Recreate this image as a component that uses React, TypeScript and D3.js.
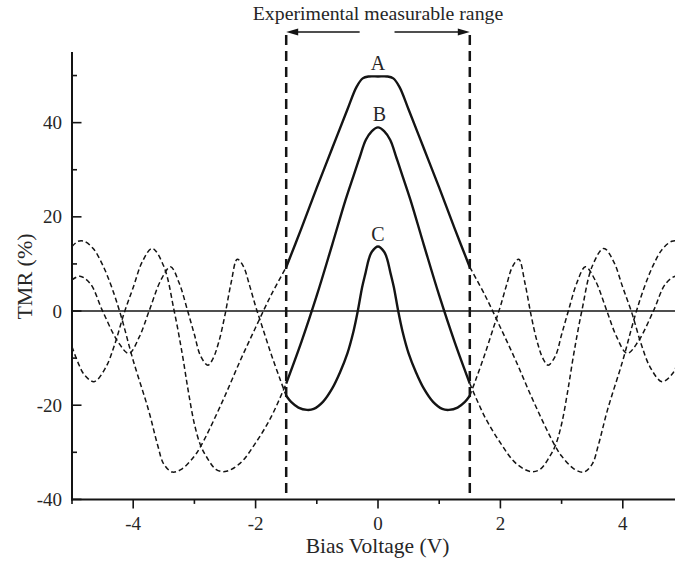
import React from "react";
import * as d3 from "d3";

// ---- data ----
const xDomain = [-5, 5];
const yDomain = [-40, 55];
const xMajorTicks = [-4, -2, 0, 2, 4];
const xMinorTicks = [-5, -3, -1, 1, 3, 5];
const yMajorTicks = [-40, -20, 0, 20, 40];
const yMinorTicks = [-30, -10, 10, 30, 50];
const rangeLimits = [-1.5, 1.5];
const arrowTails = [-0.3, 0.27];

const biasA = [-5, -4.9, -4.8, -4.65, -4.5, -4.35, -4.2, -4, -3.75, -3.6, -3.5, -3.36, -3.2, -3, -2.9, -2.75, -2.5, -2.25, -2, -1.75, -1.5, -1.25, -1, -0.75, -0.5, -0.35, -0.25, -0.15,
  0, 0.15, 0.25, 0.35, 0.5, 0.75, 1, 1.25, 1.5, 1.75, 2, 2.25, 2.5, 2.75, 2.9, 3, 3.2, 3.36, 3.5, 3.6, 3.75, 4, 4.2, 4.35, 4.5, 4.65, 4.8, 4.9, 5];
const tmrA = [13.7, 14.8, 14.8, 13.2, 9.8, 5, -1, -10.5, -21, -28.5, -32.5, -34.2, -33.5, -30.8, -28.8, -25, -18, -10.5, -3.5, 3.3, 9.3, 17.6, 26.2, 34.5, 42.8, 47.6, 49.4, 49.8,
  49.8, 49.8, 49.4, 47.6, 42.8, 34.5, 26.2, 17.6, 9.3, 3.3, -3.5, -10.5, -18, -25, -28.8, -30.8, -33.5, -34.2, -32.5, -28.5, -21, -10.5, -1, 5, 9.8, 13.2, 14.8, 14.8, 13.7];

const biasB = [-5, -4.9, -4.8, -4.64, -4.45, -4.3, -4.15, -4, -3.85, -3.69, -3.5, -3.33, -3.2, -3.1, -3, -2.9, -2.8, -2.65, -2.5, -2.25, -2, -1.75, -1.5, -1.25, -1, -0.75, -0.53, -0.4, -0.3, -0.2, -0.1,
  0, 0.1, 0.2, 0.3, 0.4, 0.53, 0.75, 1, 1.25, 1.5, 1.75, 2, 2.25, 2.5, 2.65, 2.8, 2.9, 3, 3.1, 3.2, 3.33, 3.5, 3.69, 3.85, 4, 4.15, 4.3, 4.45, 4.64, 4.8, 4.9, 5];
const tmrB = [-7.6, -11, -13.5, -15, -12, -7, -0.5, 5, 10.5, 13.3, 9.5, 0, -9, -17, -24, -28.5, -31, -33.6, -34.1, -32.3, -28, -22.6, -15.4, -6.5, 3.3, 14, 23.6, 28.7, 32.6, 36.3, 38.2,
  39, 38.2, 36.3, 32.6, 28.7, 23.6, 14, 3.3, -6.5, -15.4, -22.6, -28, -32.3, -34.1, -33.6, -31, -28.5, -24, -17, -9, 0, 9.5, 13.3, 10.5, 5, -0.5, -7, -12, -15, -13.5, -11, -7.6];

const biasC = [-5, -4.87, -4.7, -4.5, -4.25, -4.07, -3.9, -3.74, -3.55, -3.39, -3.25, -3.11, -3, -2.9, -2.78, -2.7, -2.6, -2.5, -2.4, -2.3, -2.2, -2.1, -2, -1.9, -1.75, -1.6, -1.5, -1.42, -1.3, -1.16, -1.05, -0.9, -0.75, -0.62, -0.5, -0.4, -0.33, -0.26, -0.2, -0.15, -0.1,
  0, 0.1, 0.15, 0.2, 0.26, 0.33, 0.4, 0.5, 0.62, 0.75, 0.9, 1.05, 1.16, 1.3, 1.42, 1.5, 1.6, 1.75, 1.9, 2, 2.1, 2.2, 2.3, 2.4, 2.5, 2.6, 2.7, 2.78, 2.9, 3, 3.11, 3.25, 3.39, 3.55, 3.74, 3.9, 4.07, 4.25, 4.5, 4.7, 4.87, 5];
const tmrC = [6.6, 7.4, 5.8, 0, -6.5, -9, -5.5, 0, 6.5, 9.4, 6, 0, -5, -9.5, -11.5, -10.2, -6.5, -0.8, 6, 11, 9.5, 5.5, 1, -3, -9, -14.5, -18, -19.3, -20.5, -21, -20.8, -19.3, -16.5, -13, -9, -4.3, 0, 5, 8.3, 11, 12.6,
  13.7, 12.6, 11, 8.3, 5, 0, -4.3, -9, -13, -16.5, -19.3, -20.8, -21, -20.5, -19.3, -18, -14.5, -9, -3, 1, 5.5, 9.5, 11, 6, -0.8, -6.5, -10.2, -11.5, -9.5, -5, 0, 6, 9.4, 6.5, 0, -5.5, -9, -6.5, 0, 5.8, 7.4, 6.6];

const seriesLabels = ["A", "B", "C"];
const seriesPeaks = [49.8, 39, 13.7];

const W = 675;
const H = 565;
const FONT = '"Liberation Serif", "Times New Roman", serif';
const INK = "#141414";
const TXT = "#262626";

export default function App() {
  const x = d3.scaleLinear().domain(xDomain).range([72, 684]);
  const y = d3.scaleLinear().domain(yDomain).range([499.4, 52]);
  const line = d3
    .line<[number, number]>()
    .x((d) => x(d[0]))
    .y((d) => y(d[1]))
    .curve(d3.curveCatmullRom.alpha(0.5));

  const series = [
    [biasA, tmrA],
    [biasB, tmrB],
    [biasC, tmrC],
  ].map(([xs, ys]) => xs.map((v, i) => [v, ys[i]] as [number, number]));

  const [lo, hi] = rangeLimits;
  const x0 = x.range()[0];
  const yBottom = y(yDomain[0]);
  const yTop = y(yDomain[1]);
  const arrowY = 32;
  const lineTop = 35;

  return (
    <div style={{ position: "absolute", left: 0, top: 0 }}>
      <svg width={W} height={H} style={{ display: "block", background: "#fff" }}>
        <defs>
          <clipPath id="plot">
            <rect x={x0} y={20} width={W - x0} height={yBottom - 20} />
          </clipPath>
        </defs>

        {/* zero line */}
        <line x1={x0} x2={W} y1={y(0)} y2={y(0)} stroke={INK} strokeWidth={1.5} />

        <g clipPath="url(#plot)" fill="none" stroke={INK}>
          {series.map((pts, i) => (
            <g key={i}>
              <path d={line(pts.filter((p) => p[0] <= lo)) || ""} strokeWidth={1.5} strokeDasharray="5,3" />
              <path d={line(pts.filter((p) => p[0] >= hi)) || ""} strokeWidth={1.5} strokeDasharray="5,3" />
              <path d={line(pts.filter((p) => p[0] >= lo && p[0] <= hi)) || ""} strokeWidth={2.4} />
            </g>
          ))}
        </g>

        {/* measurable range limits */}
        {rangeLimits.map((v) => (
          <line key={v} x1={x(v)} x2={x(v)} y1={lineTop} y2={yBottom} stroke={INK} strokeWidth={2.5} strokeDasharray="10,6" />
        ))}

        {/* arrows */}
        <g stroke={INK} strokeWidth={1.5} fill={INK}>
          <line x1={x(arrowTails[0])} x2={x(lo) + 10} y1={arrowY} y2={arrowY} />
          <path d={`M${x(lo)},${arrowY}L${x(lo) + 12},${arrowY - 3.5}L${x(lo) + 12},${arrowY + 3.5}Z`} stroke="none" />
          <line x1={x(arrowTails[1])} x2={x(hi) - 10} y1={arrowY} y2={arrowY} />
          <path d={`M${x(hi)},${arrowY}L${x(hi) - 12},${arrowY - 3.5}L${x(hi) - 12},${arrowY + 3.5}Z`} stroke="none" />
        </g>
        <text x={378} y={20} textAnchor="middle" fontFamily={FONT} fontSize={19.8} fill={TXT}>
          Experimental measurable range
        </text>

        {/* series labels */}
        {seriesLabels.map((s, i) => (
          <text key={s} x={x(0) + (i === 1 ? 1.5 : 0)} y={y(seriesPeaks[i]) - 6} textAnchor="middle" fontFamily={FONT} fontSize={20} fill={TXT}>
            {s}
          </text>
        ))}

        {/* axes */}
        <g stroke={INK}>
          <line x1={x0} x2={x0} y1={yTop} y2={yBottom + 1} strokeWidth={2} />
          <line x1={x0 - 1} x2={W} y1={yBottom} y2={yBottom} strokeWidth={2} />
          {yMajorTicks.map((t) => (
            <line key={"ym" + t} x1={x0} x2={x0 + 9.5} y1={y(t)} y2={y(t)} strokeWidth={1.6} />
          ))}
          {yMinorTicks.map((t) => (
            <line key={"yn" + t} x1={x0} x2={x0 + 5} y1={y(t)} y2={y(t)} strokeWidth={1.6} />
          ))}
          {xMajorTicks.map((t) => (
            <line key={"xm" + t} x1={x(t)} x2={x(t)} y1={yBottom} y2={yBottom + 9} strokeWidth={1.6} />
          ))}
          {xMinorTicks.map((t) => (
            <line key={"xn" + t} x1={x(t)} x2={x(t)} y1={yBottom} y2={yBottom + 4.5} strokeWidth={1.6} />
          ))}
        </g>
        <g fontFamily={FONT} fontSize={19} fill={TXT}>
          {yMajorTicks.map((t) => (
            <text key={"yl" + t} x={62} y={y(t) + 6.5} textAnchor="end">
              {t}
            </text>
          ))}
          {xMajorTicks.map((t) => (
            <text key={"xl" + t} x={x(t)} y={530} textAnchor="middle">
              {t}
            </text>
          ))}
        </g>
        <text x={377.5} y={553} textAnchor="middle" fontFamily={FONT} fontSize={21.5} fill={TXT}>
          Bias Voltage (V)
        </text>
        <text transform={`translate(32,276.5) rotate(-90)`} textAnchor="middle" fontFamily={FONT} fontSize={22} fill={TXT}>
          TMR (%)
        </text>
      </svg>
    </div>
  );
}
